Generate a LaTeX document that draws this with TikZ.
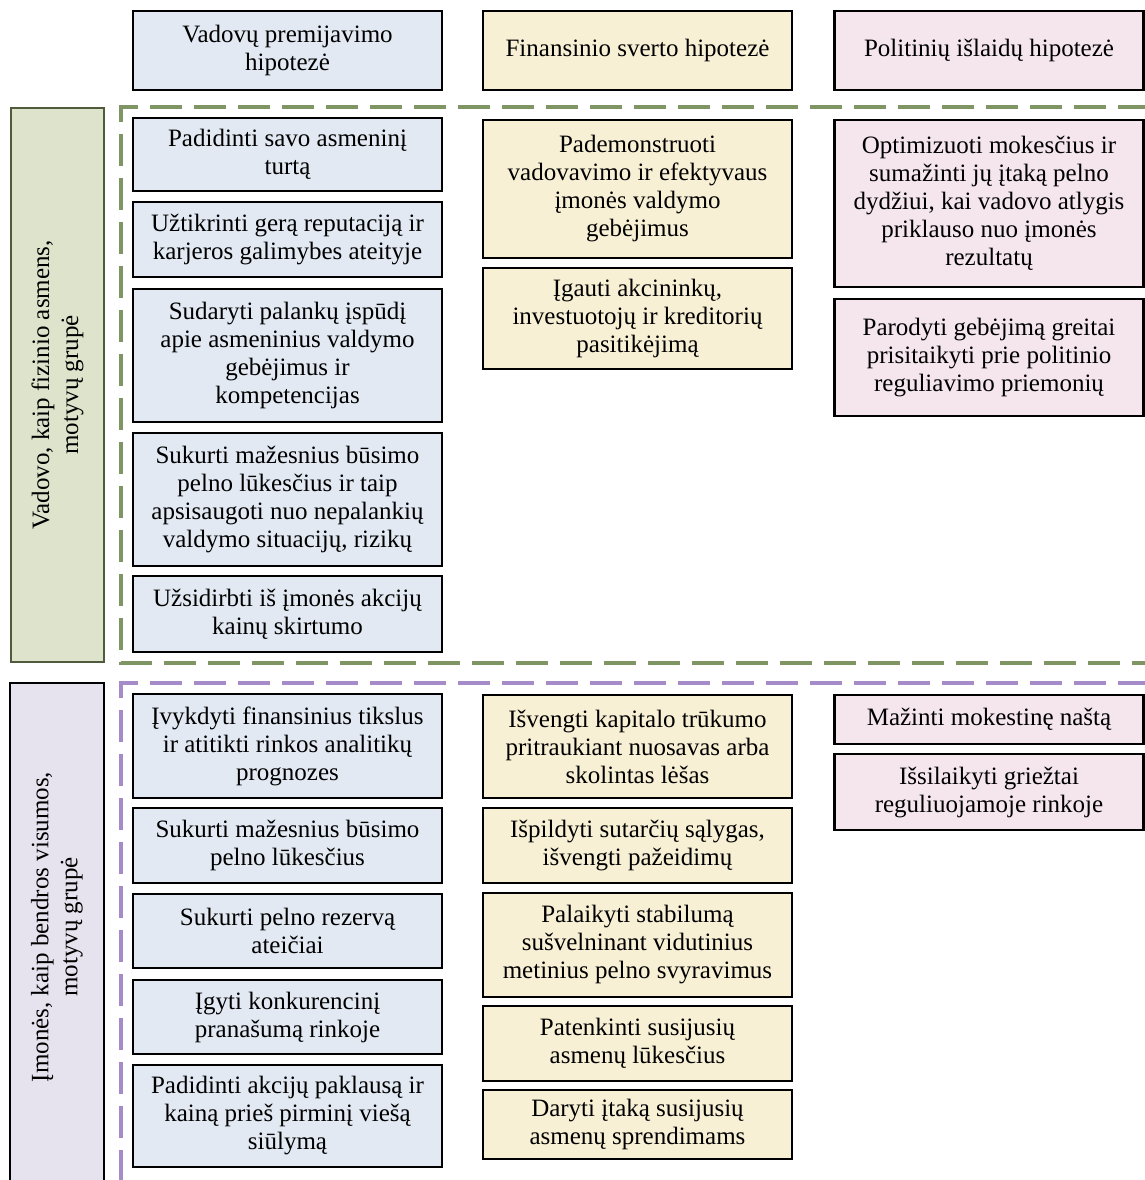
\documentclass[tikz,border=0pt]{standalone}
\usepackage{fontspec}
\setmainfont{Liberation Serif}

\definecolor{vadblue}{HTML}{E2E9F3}
\definecolor{finyellow}{HTML}{F8F0D5}
\definecolor{polpink}{HTML}{F4E6EC}
\definecolor{grpgreen}{HTML}{DEE4CB}
\definecolor{grpgreenline}{HTML}{505A3C}
\definecolor{grppurple}{HTML}{E6E2EE}
\definecolor{dashgreen}{HTML}{7F9664}
\definecolor{dashpurple}{HTML}{A58CC8}

\begin{document}
\begin{tikzpicture}[x=1pt, y=-1pt,
  box/.style={draw=black, line width=2.4pt, inner sep=2pt, align=center,
    font=\fontsize{25}{28}\selectfont, minimum width=309pt},
  vad/.style={box, fill=vadblue},
  fin/.style={box, fill=finyellow},
  pol/.style={box, fill=polpink},
  grouptext/.style={rotate=90, align=center, font=\fontsize{25}{29}\selectfont},
  groupline/.style={line width=4pt, dash pattern=on 32pt off 12pt}
  ]
\useasboundingbox ( 0, 0 ) rectangle ( 1145, 1180 );

% Hypotheses
\node [vad, minimum height=79] (hvad) at ( 287.5, 50.5 ) {Vadovų premijavimo\\hipotezė};
\node [fin, minimum height=79] (hfin) at ( 637.5, 50.5 ) {Finansinio sverto hipotezė};
\node [pol, minimum height=79] (hpol) at ( 989, 50.5 ) {Politinių išlaidų hipotezė};

% Manager group
\node [grouptext, draw=grpgreenline, line width=2.2pt, fill=grpgreen,
  minimum width=554, minimum height=93] (grpvad) at ( 57.5, 385 )
  {Vadovo, kaip fizinio asmens,\\motyvų grupė};
\draw [groupline, dashgreen] ( 1150, 107 ) -- ( 121, 107 ) -- ( 121, 663 ) -- ( 1150, 663 );

\node [vad, minimum height=73] (vad1) at ( 287.5, 154.5 ) {Padidinti savo asmeninį\\turtą};
\node [vad, minimum height=75] (vad2) at ( 287.5, 239.5 ) {Užtikrinti gerą reputaciją ir\\karjeros galimybes ateityje};
\node [vad, minimum height=133] (vad3) at ( 287.5, 355.5 ) {Sudaryti palankų įspūdį\\apie asmeninius valdymo\\gebėjimus ir\\kompetencijas};
\node [vad, minimum height=133] (vad4) at ( 287.5, 499.5 ) {Sukurti mažesnius būsimo\\pelno lūkesčius ir taip\\apsisaugoti nuo nepalankių\\valdymo situacijų, rizikų};
\node [vad, minimum height=76] (vad5) at ( 287.5, 614 ) {Užsidirbti iš įmonės akcijų\\kainų skirtumo};

\node [fin, minimum height=138] (fin1) at ( 637.5, 189 ) {Pademonstruoti\\vadovavimo ir efektyvaus\\įmonės valdymo\\gebėjimus};
\node [fin, minimum height=101] (fin2) at ( 637.5, 318.5 ) {Įgauti akcininkų,\\investuotojų ir kreditorių\\pasitikėjimą};

\node [pol, minimum height=167] (pol1) at ( 989, 203.5 ) {Optimizuoti mokesčius ir\\sumažinti jų įtaką pelno\\dydžiui, kai vadovo atlygis\\priklauso nuo įmonės\\rezultatų};
\node [pol, minimum height=117] (pol2) at ( 989, 357.5 ) {Parodyti gebėjimą greitai\\prisitaikyti prie politinio\\reguliavimo priemonių};

% Company group
\filldraw [fill=grppurple, draw=black, line width=2.2pt] ( 10, 1192 ) rectangle ( 104, 683 );
\node [grouptext] (grpimone) at ( 57, 927 ) {Įmonės, kaip bendros visumos,\\motyvų grupė};
\draw [groupline, dashpurple] ( 1150, 683 ) -- ( 121, 683 ) -- ( 121, 1190 );

\node [vad, minimum height=104] (imone1) at ( 287.5, 746 ) {Įvykdyti finansinius tikslus\\ir atitikti rinkos analitikų\\prognozes};
\node [vad, minimum height=75] (imone2) at ( 287.5, 845.5 ) {Sukurti mažesnius būsimo\\pelno lūkesčius};
\node [vad, minimum height=74] (imone3) at ( 287.5, 931 ) {Sukurti pelno rezervą\\ateičiai};
\node [vad, minimum height=74] (imone4) at ( 287.5, 1017 ) {Įgyti konkurencinį\\pranašumą rinkoje};
\node [vad, minimum height=102] (imone5) at ( 287.5, 1116 ) {Padidinti akcijų paklausą ir\\kainą prieš pirminį viešą\\siūlymą};

\node [fin, minimum height=103] (kapit1) at ( 637.5, 746.5 ) {Išvengti kapitalo trūkumo\\pritraukiant nuosavas arba\\skolintas lėšas};
\node [fin, minimum height=75] (kapit2) at ( 637.5, 845.5 ) {Išpildyti sutarčių sąlygas,\\išvengti pažeidimų};
\node [fin, minimum height=104] (kapit3) at ( 637.5, 945 ) {Palaikyti stabilumą\\sušvelninant vidutinius\\metinius pelno svyravimus};
\node [fin, minimum height=75] (kapit4) at ( 637.5, 1043.5 ) {Patenkinti susijusių\\asmenų lūkesčius};
\node [fin, minimum height=69] (kapit5) at ( 637.5, 1124.5 ) {Daryti įtaką susijusių\\asmenų sprendimams};

\node [pol, minimum height=49] (mokes1) at ( 989, 719.5 ) {Mažinti mokestinę naštą};
\node [pol, minimum height=76] (mokes2) at ( 989, 792 ) {Išsilaikyti griežtai\\reguliuojamoje rinkoje};

\end{tikzpicture}
\end{document}
